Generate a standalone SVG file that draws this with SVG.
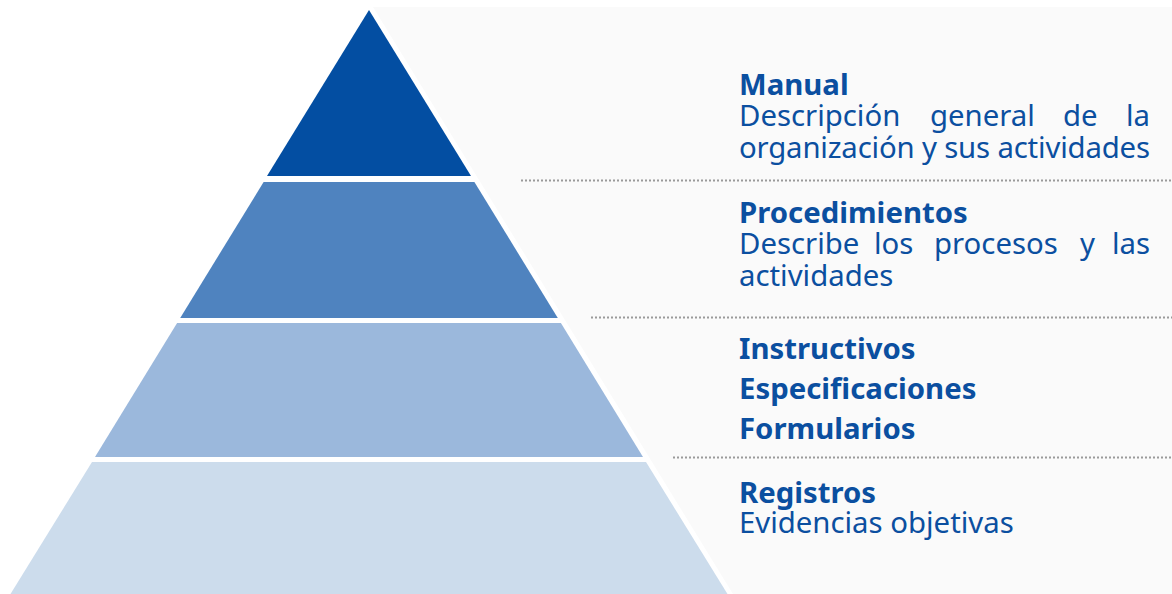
<svg xmlns="http://www.w3.org/2000/svg" width="1172" height="594" viewBox="0 0 1172 594">
<style>
.t{font-family:"Noto Sans","Open Sans","DejaVu Sans",sans-serif;font-size:29.33px;fill:#0b4fa0}
.b{font-weight:bold}
.dot{stroke:#9a9a9a;stroke-width:2;stroke-dasharray:2 2;fill:none}
</style>
<rect width="1172" height="594" fill="#ffffff"/>
<polygon id="panel" points="373,7 1172,7 1172,594 733,594" fill="#fafafa"/>
<g id="pyramid">
<polygon id="level1" points="369,10 471,176 267,176" fill="#034ea2"/>
<polygon id="level2" points="263.6,182 474.4,182 557.8,318 180.2,318" fill="#4f83bf"/>
<polygon id="level3" points="177.1,323 560.9,323 643,457 95,457" fill="#9bb8dc"/>
<polygon id="level4" points="92,462 646,462 727.5,594 10.5,594" fill="#ccdcec"/>
</g>
<g id="connectors">
<line class="dot" x1="521" y1="180.5" x2="1172" y2="180.5"/>
<line class="dot" x1="591" y1="317.5" x2="1172" y2="317.5"/>
<line class="dot" x1="673" y1="457.5" x2="1172" y2="457.5"/>
</g>
<g id="label-manual">
<text class="t b" x="739" y="95">Manual</text>
<text class="t"><tspan x="739" y="126">Descripción</tspan><tspan x="930" y="126">general</tspan><tspan x="1063" y="126">de</tspan><tspan x="1150" y="126" text-anchor="end">la</tspan></text>
<text class="t" x="739" y="158" textLength="411" lengthAdjust="spacing">organización y sus actividades</text>
</g>
<g id="label-procedimientos">
<text class="t b" x="739" y="223">Procedimientos</text>
<text class="t"><tspan x="739" y="254">Describe</tspan><tspan x="874" y="254">los</tspan><tspan x="934" y="254">procesos</tspan><tspan x="1080" y="254">y</tspan><tspan x="1150" y="254" text-anchor="end">las</tspan></text>
<text class="t" x="739" y="286">actividades</text>
</g>
<g id="label-instructivos">
<text class="t b" x="739" y="359">Instructivos</text>
<text class="t b" x="739" y="399">Especificaciones</text>
<text class="t b" x="739" y="439">Formularios</text>
</g>
<g id="label-registros">
<text class="t b" x="739" y="503">Registros</text>
<text class="t" x="739" y="533">Evidencias objetivas</text>
</g>
</svg>
